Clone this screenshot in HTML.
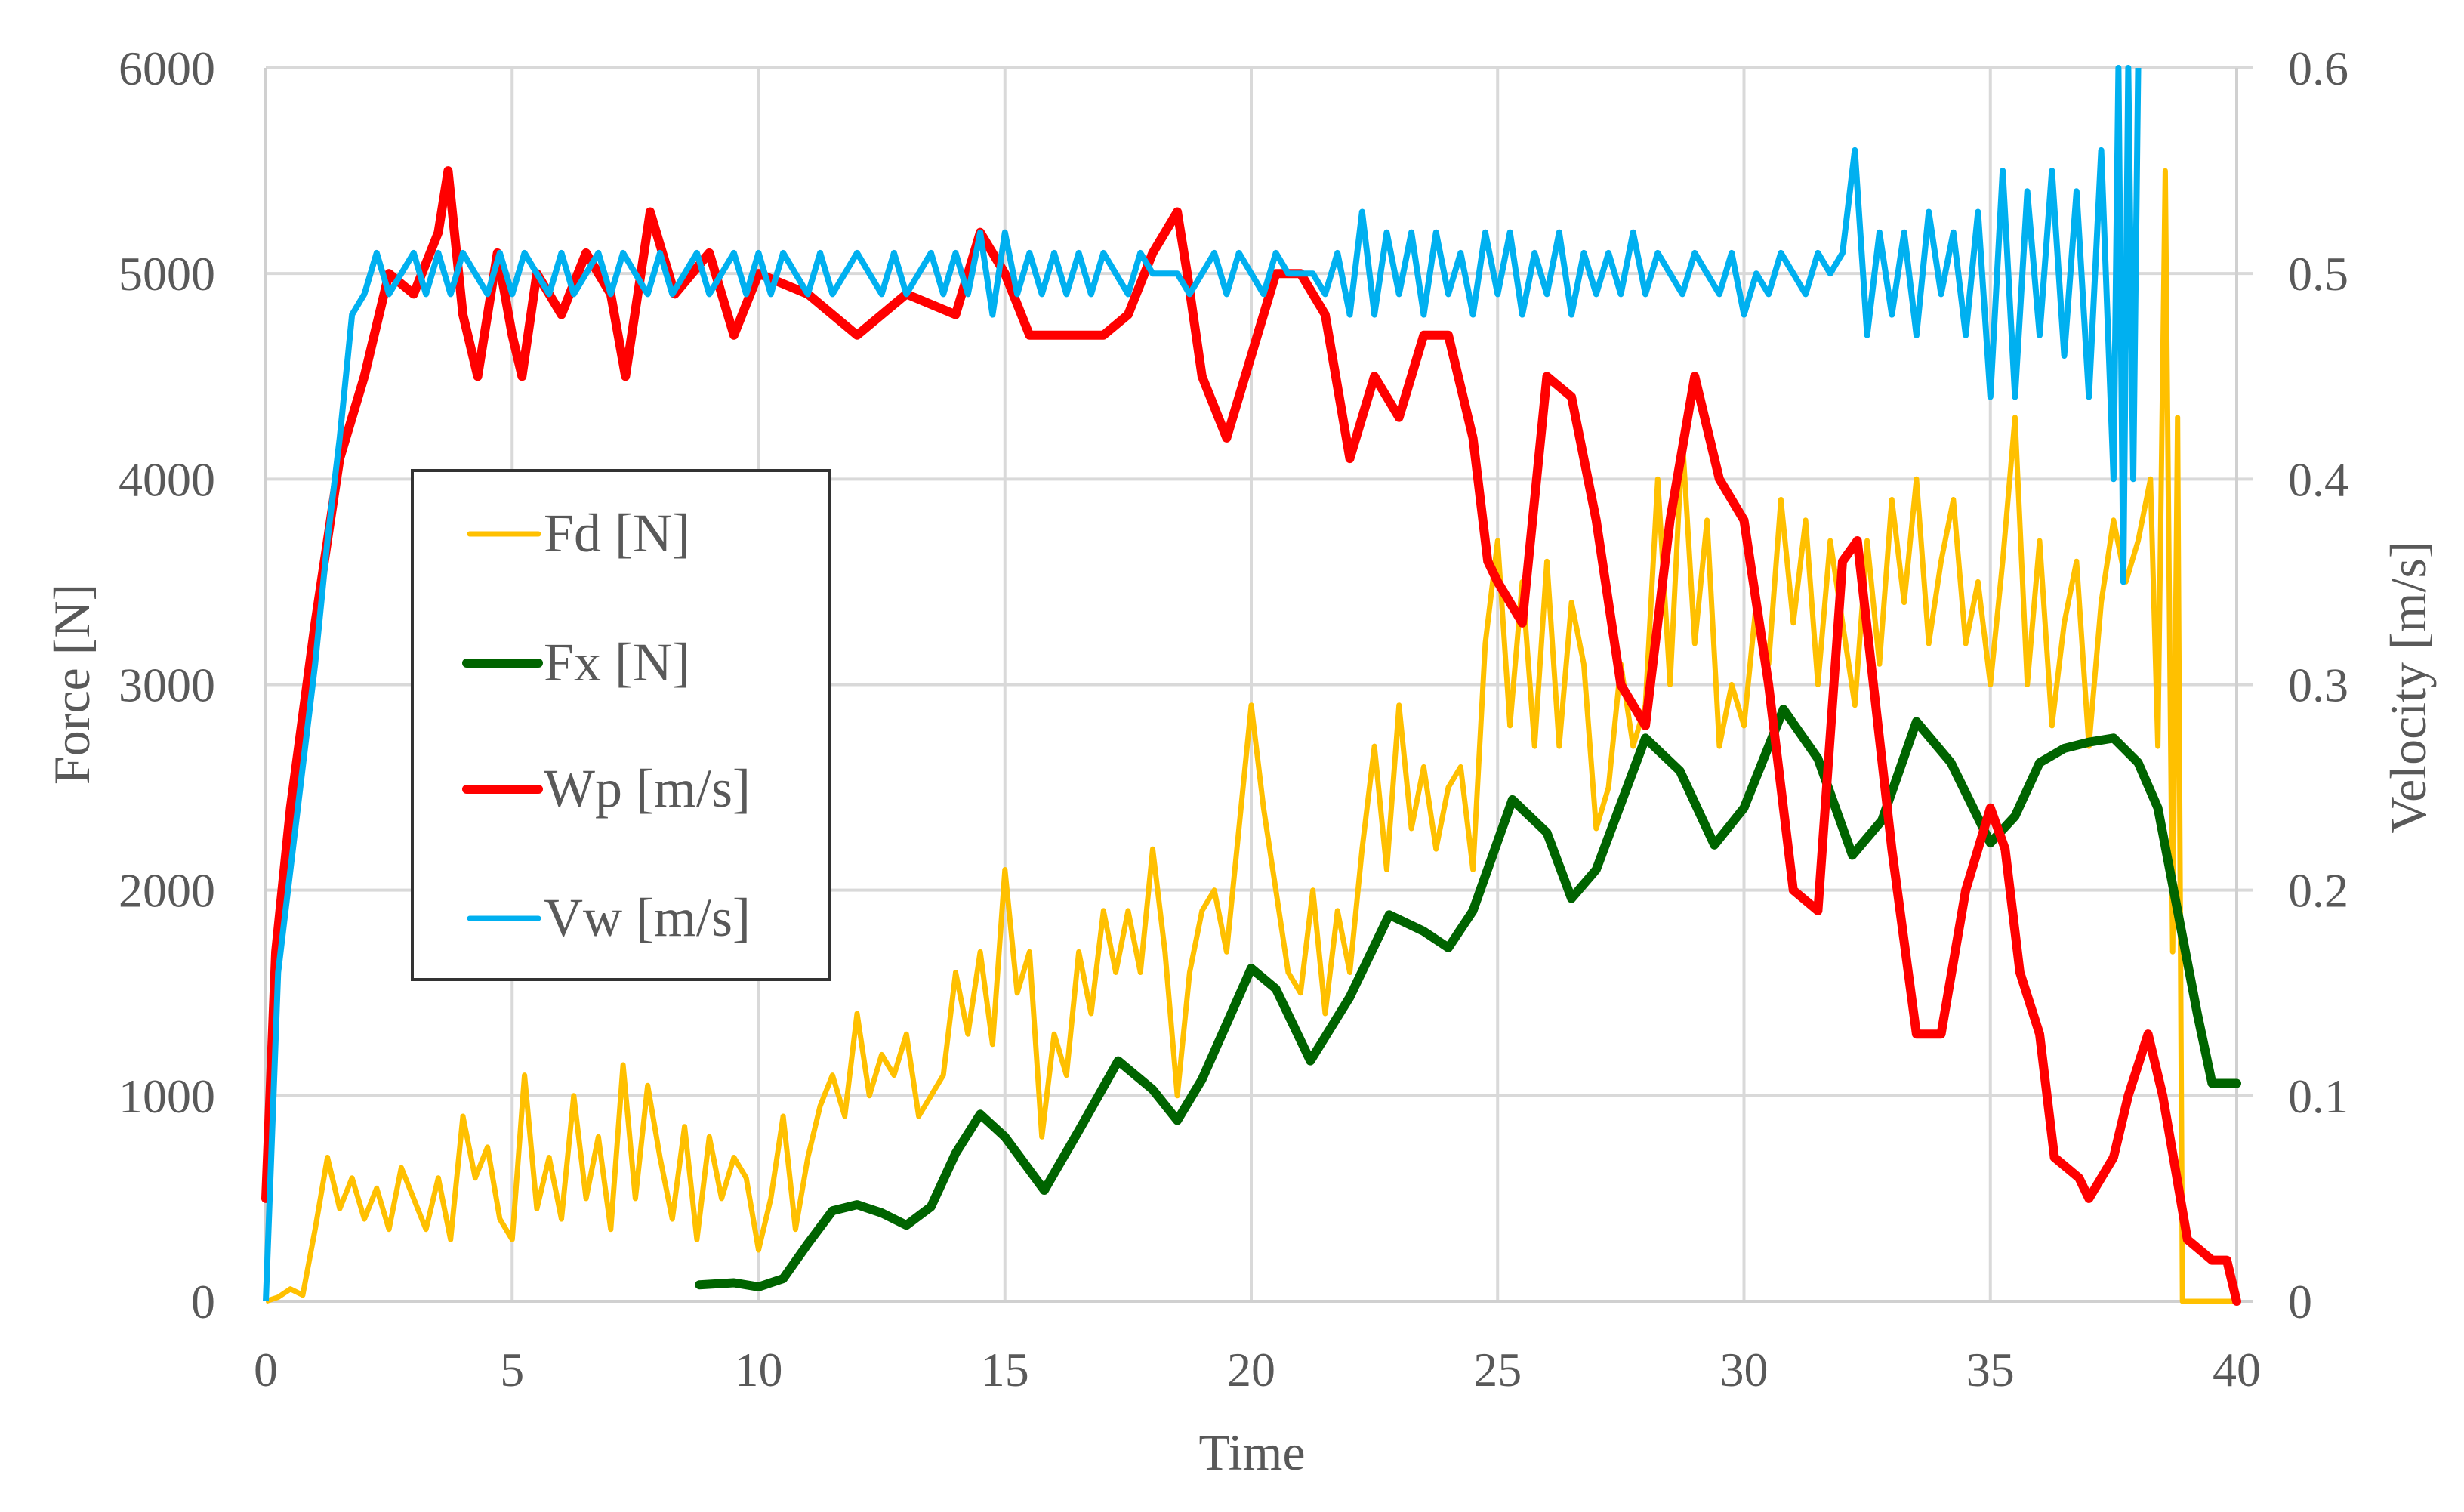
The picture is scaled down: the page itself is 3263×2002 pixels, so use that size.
<!DOCTYPE html>
<html><head><meta charset="utf-8"><style>
html,body{margin:0;padding:0;background:#fff;}
svg{display:block;}
text{font-family:"Liberation Serif",serif;fill:#595959;}
</style></head><body>
<svg id="chart" width="3263" height="2002" viewBox="0 0 3263 2002" xmlns="http://www.w3.org/2000/svg">
<g id="grid"></g>
<g id="axes"></g>
<g id="series"></g>
<text x="1658" y="1946" font-size="68" text-anchor="middle">Time</text>
<text transform="translate(118,906) rotate(-90)" font-size="68" text-anchor="middle">Force [N]</text>
<text transform="translate(3212,910) rotate(-90)" font-size="68" text-anchor="middle">Velocity [m/s]</text>
<g>
<rect x="546" y="623" width="553" height="674" fill="#fff" stroke="#333" stroke-width="4"/>
<g><line x1="622" y1="707" x2="713" y2="707" stroke="#FFC000" stroke-width="7" stroke-linecap="round"/><text x="720" y="730" font-size="72">Fd [N]</text></g>
<g><line x1="618" y1="878" x2="713" y2="878" stroke="#006400" stroke-width="12" stroke-linecap="round"/><text x="720" y="901" font-size="72">Fx [N]</text></g>
<g><line x1="618" y1="1045" x2="713" y2="1045" stroke="#FF0000" stroke-width="12" stroke-linecap="round"/><text x="720" y="1068" font-size="72">Wp [m/s]</text></g>
<g><line x1="622" y1="1216" x2="713" y2="1216" stroke="#00B0F0" stroke-width="7" stroke-linecap="round"/><text x="720" y="1239" font-size="72">Vw [m/s]</text></g>
</g>
</svg>
<script>
const xTicks=[0,5,10,15,20,25,30,35,40];
const forceTicks=[0,1000,2000,3000,4000,5000,6000];
const velTickLabels=["0","0.1","0.2","0.3","0.4","0.5","0.6"];
const velTicks=[0,0.1,0.2,0.3,0.4,0.5,0.6];

const fdStep=0.25;
const fdValues=[0,20,60,30,350,700,450,600,
400,550,350,650,500,350,600,300,
900,600,750,400,300,1100,450,700,
400,1000,500,800,350,1150,500,1050,
700,400,850,300,800,500,700,600,
250,500,900,350,700,950,1100,900,
1400,1000,1200,1100,1300,900,1000,1100,
1600,1300,1700,1250,2100,1500,1700,800,
1300,1100,1700,1400,1900,1600,1900,1600,
2200,1700,1000,1600,1900,2000,1700,2300,
2900,2400,2000,1600,1500,2000,1400,1900,
1600,2200,2700,2100,2900,2300,2600,2200,
2500,2600,2100,3200,3700,2800,3500,2700,
3600,2700,3400,3100,2300,2500,3100,2700,
2900,4000,3000,4200,3200,3800,2700,3000,
2800,3400,3100,3900,3300,3800,3000,3700,
3300,2900,3700,3100,3900,3400,4000,3200,
3600,3900,3200,3500,3000,3600,4300,3000,
3700,2800,3300,3600,2700,3400,3800,3500,
3700,4000];
const fdTailTimes=[38.4,38.55,38.7,38.8,38.9,40];
const fdTailValues=[2700,5500,1700,4300,0,0];

const fxTimes=[8.8,9.5,10,10.5,11,11.5,12,12.5,13,13.5,14,14.5,15,15.8,16.5,17.3,18,18.5,19,20,20.5,21.2,22,22.8,23.5,24,24.5,25.3,26,26.5,27,28,28.7,29.4,30,30.8,31.5,32.2,32.8,33.5,34.2,35,35.5,36,36.5,37,37.5,38,38.4,38.8,39.2,39.5,40];
const fxValues=[80,90,70,110,280,440,470,430,370,460,720,910,800,540,830,1170,1030,880,1080,1620,1520,1170,1480,1880,1800,1720,1900,2440,2280,1960,2100,2740,2580,2220,2400,2880,2640,2170,2340,2820,2620,2230,2360,2620,2690,2720,2740,2620,2400,1900,1400,1060,1060];

const wpTimes=[0,0.2,0.5,1,1.5,2,2.5,3,3.5,3.7,4,4.3,4.7,5,5.2,5.5,6,6.5,7,7.3,7.8,8.3,9,9.5,10,11,12,13,14,14.5,15,15.5,16,17,17.5,18,18.5,18.7,19,19.5,20,20.5,21,21.5,22,22.5,23,23.5,24,24.5,24.8,25,25.5,26,26.5,27,27.5,28,28.5,29,29.5,30,30.5,31,31.5,32,32.3,33,33.5,34,34.5,35,35.3,35.6,36,36.3,36.8,37,37.5,37.8,38.2,38.5,39,39.5,39.8,40];
const wpValues=[0.05,0.17,0.24,0.33,0.41,0.45,0.50,0.49,0.52,0.55,0.48,0.45,0.51,0.47,0.45,0.50,0.48,0.51,0.49,0.45,0.53,0.49,0.51,0.47,0.50,0.49,0.47,0.49,0.48,0.52,0.50,0.47,0.47,0.47,0.48,0.51,0.53,0.50,0.45,0.42,0.46,0.50,0.50,0.48,0.41,0.45,0.43,0.47,0.47,0.42,0.36,0.35,0.33,0.45,0.44,0.38,0.30,0.28,0.38,0.45,0.40,0.38,0.30,0.20,0.19,0.36,0.37,0.22,0.13,0.13,0.20,0.24,0.22,0.16,0.13,0.07,0.06,0.05,0.07,0.10,0.13,0.10,0.03,0.02,0.02,0.0];

const vwStep=0.25;
const vwValues=[0,0.16,0.21,0.26,0.31,0.37,0.42,0.48,
0.49,0.51,0.49,0.50,0.51,0.49,0.51,0.49,0.51,0.50,0.49,0.51,
0.49,0.51,0.50,0.49,0.51,0.49,0.50,0.51,0.49,0.51,0.50,0.49,
0.51,0.49,0.50,0.51,0.49,0.50,0.51,0.49,0.51,0.49,0.51,0.50,
0.49,0.51,0.49,0.50,0.51,0.50,0.49,0.51,0.49,0.50,0.51,0.49,
0.51,0.49,0.52,0.48,0.52,0.49,0.51,0.49,0.51,0.49,0.51,0.49,
0.51,0.50,0.49,0.51,0.50,0.50,0.50,0.49,0.50,0.51,0.49,0.51,
0.50,0.49,0.51,0.50,0.50,0.50,0.49,0.51,0.48,0.53,0.48,0.52,
0.49,0.52,0.48,0.52,0.49,0.51,0.48,0.52,0.49,0.52,0.48,0.51,
0.49,0.52,0.48,0.51,0.49,0.51,0.49,0.52,0.49,0.51,0.50,0.49,
0.51,0.50,0.49,0.51,0.48,0.50,0.49,0.51,0.50,0.49,0.51,0.50,
0.51,0.56,0.47,0.52,0.48,0.52,0.47,0.53,0.49,0.52,0.47,0.53,
0.44,0.55,0.44,0.54,0.47,0.55,0.46,0.54,0.44,0.56,0.40];
const vwTailTimes=[37.6,37.7,37.8,37.9,38.0];
const vwTailValues=[0.60,0.35,0.60,0.40,0.60];

const X0=352,X1=2962,Y0=1723,Y1=90;
function xs(t){return X0+(t/40)*(X1-X0);}
function yF(v){return Y0-(v/6000)*(Y0-Y1);}
function yV(v){return Y0-(v/0.6)*(Y0-Y1);}
const NS="http://www.w3.org/2000/svg";
function mk(tag,attrs,parent){const e=document.createElementNS(NS,tag);for(const k in attrs)e.setAttribute(k,attrs[k]);parent.appendChild(e);return e;}
const grid=document.getElementById('grid'),axes=document.getElementById('axes'),series=document.getElementById('series');

forceTicks.forEach((v,i)=>{
  const y=yF(v);
  if(v>0){const l=mk('line',{x1:X0,x2:X1+22,y1:y,y2:y,stroke:'#d9d9d9','stroke-width':4},grid);
  
  }
  const t=mk('text',{x:285,y:y+22,'font-size':64,'text-anchor':'end'},axes);t.textContent=v;
  
  
});
velTicks.forEach((v,i)=>{
  const t=mk('text',{x:3030,y:yV(v)+22,'font-size':64,'text-anchor':'start'},axes);t.textContent=velTickLabels[i];
  
  
});
xTicks.forEach(v=>{
  const x=xs(v);
  if(v>0){const l=mk('line',{x1:x,x2:x,y1:Y1,y2:Y0,stroke:'#d9d9d9','stroke-width':4},grid);
  
  }
  const t=mk('text',{x:x,y:1835,'font-size':64,'text-anchor':'middle'},axes);t.textContent=v;
  
  
});
const la=mk('line',{x1:X0,x2:X0,y1:Y1,y2:Y0,stroke:'#d0d0d0','stroke-width':4},axes);


const ra=mk('line',{x1:X1,x2:X1,y1:Y1,y2:Y0,stroke:'#d0d0d0','stroke-width':4},axes);


const ba=mk('line',{x1:X0,x2:X1+22,y1:Y0,y2:Y0,stroke:'#d0d0d0','stroke-width':4},axes);



function pathFrom(ts,vs,yf){return ts.map((t,i)=>(i?'L':'M')+xs(t).toFixed(1)+','+yf(vs[i]).toFixed(1)).join(' ');}
const fdTimes=fdValues.map((v,i)=>i*fdStep).concat(fdTailTimes);
const fdAll=fdValues.concat(fdTailValues);
const vwTimes=vwValues.map((v,i)=>i*vwStep).concat(vwTailTimes);
const vwAll=vwValues.concat(vwTailValues);

const pFd=mk('path',{d:pathFrom(fdTimes,fdAll,yF),fill:'none',stroke:'#FFC000','stroke-width':7,'stroke-linejoin':'round'},series);


const pFx=mk('path',{d:pathFrom(fxTimes,fxValues,yF),fill:'none',stroke:'#006400','stroke-width':12,'stroke-linejoin':'round','stroke-linecap':'round'},series);


const pVw=mk('path',{d:pathFrom(vwTimes,vwAll,yV),fill:'none',stroke:'#00B0F0','stroke-width':8,'stroke-linejoin':'round'},series);


const pWp=mk('path',{d:pathFrom(wpTimes,wpValues,yV),fill:'none',stroke:'#FF0000','stroke-width':12,'stroke-linejoin':'round','stroke-linecap':'round'},series);


series.insertBefore(pWp,pVw);
</script>
</body></html>
